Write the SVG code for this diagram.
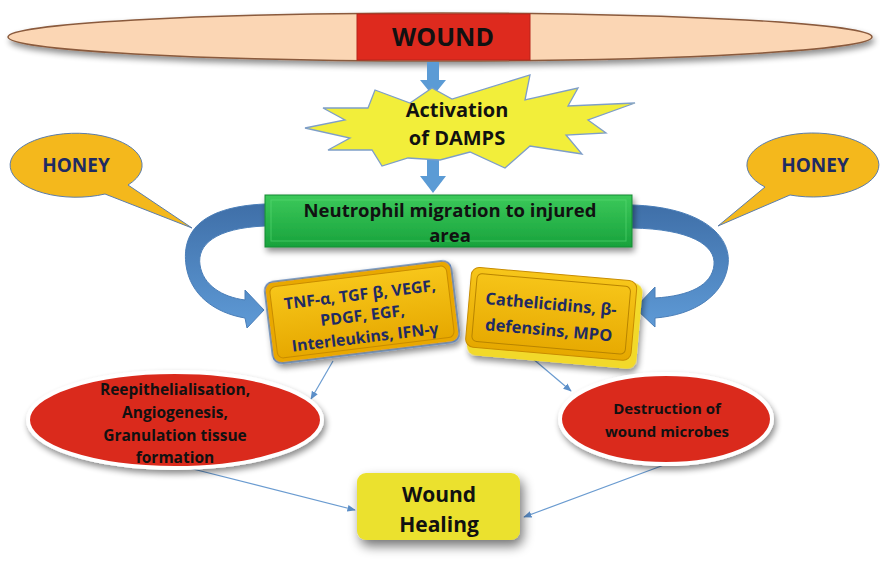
<svg xmlns="http://www.w3.org/2000/svg" width="880" height="561" viewBox="0 0 880 561">
<defs>
  <filter id="sh" x="-20%" y="-20%" width="140%" height="160%">
    <feGaussianBlur in="SourceAlpha" stdDeviation="3"/>
    <feOffset dx="2" dy="4"/>
    <feComponentTransfer><feFuncA type="linear" slope="0.45"/></feComponentTransfer>
    <feMerge><feMergeNode/><feMergeNode in="SourceGraphic"/></feMerge>
  </filter>
  <filter id="shBig" x="-30%" y="-30%" width="160%" height="180%">
    <feGaussianBlur in="SourceAlpha" stdDeviation="6"/>
    <feOffset dx="3" dy="6"/>
    <feComponentTransfer><feFuncA type="linear" slope="0.55"/></feComponentTransfer>
    <feMerge><feMergeNode/><feMergeNode in="SourceGraphic"/></feMerge>
  </filter>
  <linearGradient id="gold" x1="0" y1="0" x2="0" y2="1">
    <stop offset="0" stop-color="#F7C61A"/>
    <stop offset="1" stop-color="#E6A800"/>
  </linearGradient>
  <linearGradient id="green" x1="0" y1="0" x2="0" y2="1">
    <stop offset="0" stop-color="#3CC95A"/>
    <stop offset="1" stop-color="#18A23C"/>
  </linearGradient>
  <linearGradient id="blueArc" x1="0" y1="0" x2="0" y2="1">
    <stop offset="0" stop-color="#3F6FA8"/>
    <stop offset="1" stop-color="#5E9AD6"/>
  </linearGradient>
  <marker id="ah" viewBox="0 0 10 10" refX="9" refY="5" markerWidth="7" markerHeight="7" orient="auto">
    <path d="M0,1 L10,5 L0,9 Z" fill="#5B8FC9"/>
  </marker>
  <style>
    .t { font-family: "Open Sans", "Liberation Sans", sans-serif; font-weight: 700; text-anchor: middle; }
    .blk { fill: #111; }
    .navy { fill: #1F2B63; }
    .conn { stroke: #6A9BD0; stroke-width: 1.2; fill: none; marker-end: url(#ah); }
    .blueArrow { fill: #5B9BD5; }
    .redEll { fill: #DA2A1E; stroke: #FFFFFF; stroke-width: 4; }
    .honey { fill: #F4B81C; stroke: #5C7DAA; stroke-width: 1; }
  </style>
</defs>

<rect width="880" height="561" fill="#FFFFFF"/>

<!-- Top wound bar -->
<g id="wound-bar">
  <ellipse cx="440" cy="37" rx="432" ry="24" fill="#FBD6B4" stroke="#8A5A3C" stroke-width="1.5" filter="url(#sh)"/>
</g>
<g id="wound">
  <rect x="357" y="14" width="173" height="46" fill="#DE2A1E" stroke="#B8241A" stroke-width="1"/>
  <text class="t blk" x="443" y="46" font-size="25">WOUND</text>
</g>

<!-- Connectors -->
<g id="connectors">
  <path class="blueArrow" d="M427,62 L439,62 L439,80 L446,80 L433,96 L420,80 L427,80 Z"/>
  <path class="blueArrow" d="M427,150 L439,150 L439,176 L446,176 L433,193 L420,176 L427,176 Z"/>
  <path d="M265,204 C197,207 182,235 186,265 C190,295 215,313 245,318 L247,328 L264,310 L245,290 L245,300 C222,297 203,285 200,265 C197,245 215,228 265,226 Z" fill="url(#blueArc)" stroke="#4A7EB8" stroke-width="1"/>
  <path d="M632,205 C700,207 732,235 728,265 C724,295 695,315 655,318 L655,327 L635,308 L655,287 L655,298 C690,296 712,285 714,265 C716,245 690,229 632,228 Z" fill="url(#blueArc)" stroke="#4A7EB8" stroke-width="1"/>
  <line class="conn" x1="333" y1="361" x2="311" y2="399"/>
  <line class="conn" x1="532" y1="358" x2="571" y2="391"/>
  <line class="conn" x1="185" y1="467" x2="355" y2="510"/>
  <line class="conn" x1="664" y1="465" x2="524" y2="517"/>
</g>

<!-- Activation starburst -->
<g id="activation">
  <polygon points="375,90 410,103 432,88 452,99 530,75 525,100 578,88 568,106 635,103 588,120 606,133 566,135 582,154 530,146 505,168 470,152 440,160 408,158 382,166 372,150 328,150 350,138 305,128 345,120 323,108 368,108" fill="#F2EE3A" stroke="#7E9EC8" stroke-width="1.3"/>
  <text class="t blk" x="457" y="117" font-size="20">Activation</text>
  <text class="t blk" x="457" y="145" font-size="20">of DAMPS</text>
</g>

<!-- Honey callouts -->
<g id="honey-left">
  <path class="honey" d="M128,185 L192,228 L105,194 A66,32 0 1,1 128,185 Z"/>
  <text class="t navy" x="76" y="172" font-size="19">HONEY</text>
</g>
<g id="honey-right">
  <path class="honey" d="M765,187 L718,226 L790,195 A66,32 0 1,0 765,187 Z"/>
  <text class="t navy" x="815" y="172" font-size="19">HONEY</text>
</g>

<!-- Neutrophil migration -->
<g id="neutrophil">
  <rect x="265" y="195" width="367" height="52" fill="url(#green)" stroke="#138A32" stroke-width="1" filter="url(#sh)"/>
  <rect x="271" y="200" width="355" height="41" fill="none" stroke="#5ADB76" stroke-width="1" opacity="0.6"/>
  <text class="t blk" x="450" y="217" font-size="18.5">Neutrophil migration to injured</text>
  <text class="t blk" x="450" y="242" font-size="18.5">area</text>
</g>

<!-- Cytokines box -->
<g id="cytokines" transform="translate(362,312) rotate(-7)">
  <rect x="-94" y="-41" width="188" height="82" rx="9" fill="#E9A800" stroke="#5B82B8" stroke-width="1.5" filter="url(#sh)"/>
  <rect x="-89" y="-36" width="178" height="72" rx="6" fill="url(#gold)" stroke="#C88C00" stroke-width="1"/>
  <text class="t navy" x="0" y="-12" font-size="16">TNF-α, TGF β, VEGF,</text>
  <text class="t navy" x="0" y="9" font-size="16">PDGF, EGF,</text>
  <text class="t navy" x="0" y="31" font-size="16">Interleukins, IFN-γ</text>
</g>

<!-- Antimicrobial box -->
<g id="antimicrobial" transform="translate(552,316) rotate(5)">
  <rect x="-82" y="-40" width="170" height="86" rx="9" fill="#F2D92A" filter="url(#sh)"/>
  <rect x="-84" y="-42" width="166" height="80" rx="8" fill="url(#gold)" stroke="#C88C00" stroke-width="1"/>
  <rect x="-78" y="-36" width="154" height="68" rx="5" fill="none" stroke="#B88400" stroke-width="1"/>
  <text class="t navy" x="-2" y="-6" font-size="16.5">Cathelicidins, β-</text>
  <text class="t navy" x="-2" y="20" font-size="16.5">defensins, MPO</text>
</g>

<!-- Left red ellipse -->
<g id="reepithelialisation">
  <ellipse class="redEll" cx="175" cy="420" rx="147" ry="48" filter="url(#sh)"/>
  <text class="t blk" x="175" y="395" font-size="15.5">Reepithelialisation,</text>
  <text class="t blk" x="175" y="418" font-size="15.5">Angiogenesis,</text>
  <text class="t blk" x="175" y="441" font-size="15.5">Granulation tissue</text>
  <text class="t blk" x="175" y="463" font-size="15.5">formation</text>
</g>

<!-- Right red ellipse -->
<g id="destruction">
  <ellipse class="redEll" cx="666" cy="419" rx="106" ry="45" filter="url(#sh)"/>
  <text class="t blk" x="667" y="414" font-size="15">Destruction of</text>
  <text class="t blk" x="667" y="437" font-size="15">wound microbes</text>
</g>

<!-- Wound healing -->
<g id="wound-healing">
  <rect x="357" y="473" width="163" height="67" rx="9" fill="#EBE12E" filter="url(#shBig)"/>
  <text class="t blk" x="439" y="502" font-size="21">Wound</text>
  <text class="t blk" x="439" y="532" font-size="21">Healing</text>
</g>
</svg>
